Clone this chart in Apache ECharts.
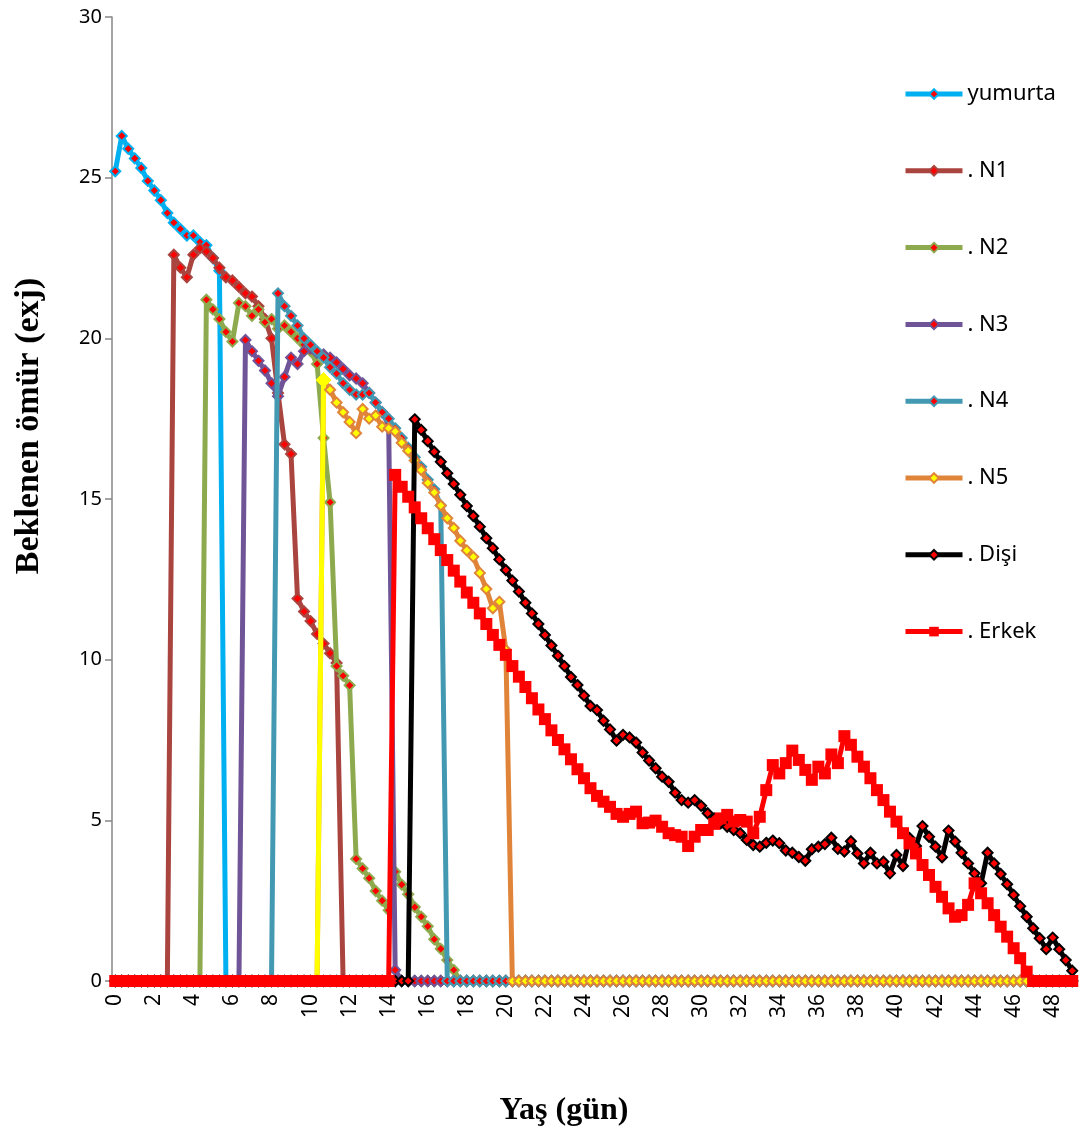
<!DOCTYPE html>
<html>
<head>
<meta charset="utf-8">
<script src="https://cdn.jsdelivr.net/npm/echarts/dist/echarts.min.js"></script>
<style>
  body { margin: 0; background: #fff; }
  #main { width: 1080px; height: 1133px; }
</style>
</head>
<body>
<div id="main"></div>
<script>
// yaş (gün): one category every 1/3 day, 0 .. 49
const ages = Array.from({ length: 148 }, (_, k) => +(k / 3).toFixed(2));

// each stage: index of first living category + ex values (0 elsewhere)
const yumurtaFrom = 0;
const yumurta = [25.2, 26.3, 25.9, 25.6, 25.3, 24.9, 24.6, 24.3, 23.9, 23.6, 23.4, 23.2, 23.2, 23.0, 22.9, 22.5, 22.1];

const n1From = 9;
const n1 = [22.6, 22.2, 21.9, 22.6, 22.8, 22.7, 22.5, 22.2, 21.9, 21.8, 21.6, 21.4, 21.3, 21.0, 20.6, 20.0,
  18.3, 16.7, 16.4, 11.9, 11.5, 11.2, 10.8, 10.5, 10.2, 9.9];

const n2From = 14;
const n2 = [21.2, 20.9, 20.6, 20.2, 19.9, 21.1, 21.0, 20.7, 20.9, 20.5, 20.6, 20.3, 20.4, 20.2, 20.0, 19.8,
  19.6, 19.2, 16.9, 14.9, 9.8, 9.5, 9.2, 3.8, 3.5, 3.2, 2.8, 2.5, 2.2, 3.4, 3.0, 2.7, 2.3, 2.0, 1.7, 1.3,
  1.0, 0.65, 0.34];

const n3From = 20;
const n3 = [19.95, 19.6, 19.3, 19.0, 18.6, 18.2, 18.8, 19.4, 19.2, 19.6, 19.7, 19.55, 19.5, 19.4, 19.25,
  19.05, 18.85, 18.75, 18.6, 18.3, 18.0, 17.7, 17.3, 0.34];

const n4From = 25;
const n4 = [21.4, 21.0, 20.7, 20.4, 20.0, 19.8, 19.6, 19.4, 19.1, 18.9, 18.6, 18.4, 18.25, 18.25, 18.3, 18.0,
  17.7, 17.5, 17.2, 16.9, 16.6, 16.3, 16.0, 15.6, 15.3, 14.8];

const n5From = 32;
const n5 = [18.7, 18.4, 18.0, 17.7, 17.4, 17.05, 17.8, 17.5, 17.6, 17.25, 17.2, 17.1, 16.75, 16.5, 16.2, 15.9,
  15.5, 15.2, 14.8, 14.4, 14.1, 13.7, 13.4, 13.2, 12.7, 12.2, 11.6, 11.8, 10.3];

const disiFrom = 46;
const disi = [17.48, 17.15, 16.8, 16.47, 16.16, 15.8, 15.47, 15.13, 14.78, 14.47,
  14.14, 13.78, 13.47, 13.12, 12.79, 12.46, 12.12, 11.77, 11.44, 11.11,
  10.77, 10.44, 10.12, 9.8, 9.46, 9.21, 8.88, 8.56, 8.43, 8.1,
  7.83, 7.48, 7.66, 7.58, 7.42, 7.11, 6.86, 6.62, 6.36, 6.2,
  5.86, 5.63, 5.55, 5.63, 5.45, 5.22, 5.06, 4.91, 4.8, 4.7,
  4.6, 4.39, 4.23, 4.18, 4.3, 4.37, 4.29, 4.06, 3.99, 3.86,
  3.74, 4.1, 4.18, 4.26, 4.46, 4.11, 4.03, 4.35, 3.97, 3.66,
  3.99, 3.66, 3.71, 3.35, 3.92, 3.58, 4.45, 4.2, 4.82, 4.49,
  4.18, 3.85, 4.68, 4.34, 3.99, 3.66, 3.35, 3.04, 3.99, 3.66,
  3.33, 3.01, 2.68, 2.33, 2.0, 1.64, 1.33, 0.99, 1.35, 0.99,
  0.65, 0.32];

const erkekFrom = 43;
const erkek = [15.75, 15.38, 15.07, 14.74, 14.4, 14.09, 13.75, 13.41, 13.1, 12.77,
  12.43, 12.09, 11.77, 11.44, 11.11, 10.77, 10.46, 10.15, 9.8, 9.47,
  9.15, 8.8, 8.45, 8.15, 7.8, 7.5, 7.21, 6.9, 6.59, 6.31,
  6.0, 5.76, 5.58, 5.42, 5.2, 5.11, 5.2, 5.27, 4.91, 4.93,
  4.99, 4.8, 4.6, 4.54, 4.49, 4.2, 4.49, 4.7, 4.7, 4.89,
  5.06, 5.17, 4.96, 5.01, 4.96, 4.6, 5.11, 5.94, 6.72, 6.46,
  6.78, 7.17, 6.88, 6.57, 6.26, 6.67, 6.46, 7.05, 6.78, 7.62,
  7.35, 6.98, 6.67, 6.31, 5.94, 5.63, 5.27, 4.96, 4.6, 4.28,
  3.97, 3.61, 3.3, 2.93, 2.62, 2.26, 2.0, 2.05, 2.37, 3.04,
  2.73, 2.42, 2.05, 1.69, 1.38, 1.02, 0.71, 0.29];

// dead / not yet hatched = 0
function fillSeries(from, vals) {
  const out = ages.map(() => 0);
  vals.forEach((v, k) => { out[from + k] = v; });
  return out;
}

function stage(name, color, from, vals, z, fill) {
  return {
    name: name,
    type: 'line',
    z: z,
    data: fillSeries(from, vals),
    symbol: 'diamond',
    symbolSize: 10,
    showAllSymbol: true,
    lineStyle: { color: color, width: 5 },
    itemStyle: { color: fill || '#FF0000', borderColor: color, borderWidth: 2 }
  };
}

// N5 rise segment is yellow in the original
const n5Rise = ages.map((a, k) => (k === n5From - 1 ? 0 : (k === n5From ? n5[0] : '-')));

const chart = echarts.init(document.getElementById('main'));
const option = {
  animation: false,
  backgroundColor: '#fff',
  grid: { left: 112, right: 4.5, top: 17, bottom: 152 },
  legend: {
    orient: 'vertical',
    left: 898,
    top: 78,
    itemWidth: 57,
    itemHeight: 12,
    itemGap: 54.8,
    lineStyle: { width: 5 },
    textStyle: { fontFamily: 'Noto Sans', fontSize: 22, color: '#000', lineHeight: 20 },
    data: ['yumurta', '. N1', '. N2', '. N3', '. N4', '. N5', '. Dişi', '. Erkek']
  },
  xAxis: {
    type: 'category',
    data: ages,
    boundaryGap: true,
    axisLine: { lineStyle: { color: '#868686', width: 1.5 } },
    axisTick: { interval: 0, length: 4, lineStyle: { color: '#868686' } },
    axisLabel: {
      interval: 5,
      rotate: 90,
      margin: 13,
      fontFamily: 'Noto Sans',
      fontSize: 21,
      color: '#000',
      formatter: v => String(Math.round(+v))
    },
    splitLine: { show: false }
  },
  yAxis: {
    type: 'value',
    min: 0,
    max: 30,
    interval: 5,
    axisLine: { show: true, lineStyle: { color: '#868686', width: 1.5 } },
    axisTick: { show: true, length: 7, lineStyle: { color: '#868686', width: 1.5 } },
    axisLabel: { fontFamily: 'Noto Sans', fontSize: 20, color: '#000', margin: 10 },
    splitLine: { show: false }
  },
  graphic: [
    {
      type: 'text', x: 29, y: 426, rotation: Math.PI / 2,
      style: { text: 'Beklenen ömür (exj)', font: 'bold 34px "Liberation Serif"', fill: '#000',
        textAlign: 'center', textVerticalAlign: 'middle' }
    },
    {
      type: 'text', x: 564, y: 1111,
      style: { text: 'Yaş (gün)', font: 'bold 32px "Liberation Serif"', fill: '#000',
        textAlign: 'center', textVerticalAlign: 'middle' }
    }
  ],
  series: [
    stage('yumurta', '#00B0F0', yumurtaFrom, yumurta, 2),
    stage('. N1', '#A9443F', n1From, n1, 3),
    stage('. N2', '#8EAA4E', n2From, n2, 4),
    stage('. N3', '#6F5597', n3From, n3, 5),
    stage('. N4', '#4399B2', n4From, n4, 6),
    stage('. N5', '#E0843A', n5From, n5, 7, '#FFFF00'),
    {
      name: 'n5rise',
      type: 'line',
      z: 7,
      data: n5Rise,
      symbol: 'diamond',
      symbolSize: (v, p) => (p.dataIndex === n5From ? 15 : 0),
      showAllSymbol: true,
      lineStyle: { color: '#FFFF00', width: 5 },
      itemStyle: { color: '#FFFF00', borderColor: '#FFFF00' }
    },
    stage('. Dişi', '#000000', disiFrom, disi, 8),
    {
      name: '. Erkek',
      type: 'line',
      z: 9,
      data: fillSeries(erkekFrom, erkek),
      symbol: 'rect',
      symbolSize: 12,
      showAllSymbol: true,
      lineStyle: { color: '#FF0000', width: 5 },
      itemStyle: { color: '#FF0000' }
    }
  ]
};
chart.setOption(option);
</script>
</body>
</html>
